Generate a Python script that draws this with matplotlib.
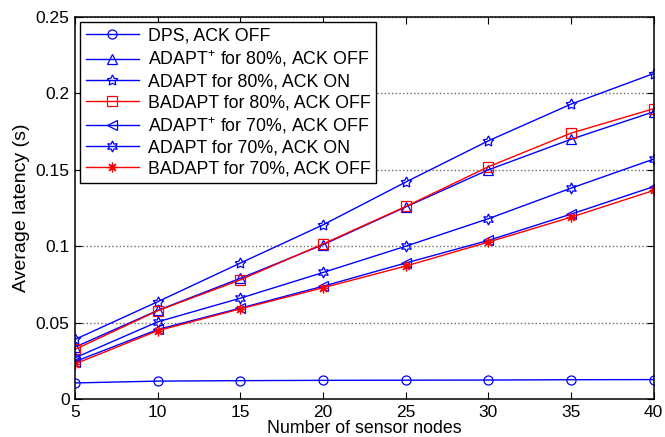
import matplotlib.pyplot as plt
import numpy as np

plt.rcParams['font.family'] = ['Liberation Sans', 'DejaVu Sans']
plt.rcParams['mathtext.fontset'] = 'custom'
plt.rcParams['mathtext.rm'] = 'Liberation Sans'

nodes = [5, 10, 15, 20, 25, 30, 35, 40]

dps_off = [0.0105, 0.0117, 0.0120, 0.0122, 0.0123, 0.0124, 0.0126, 0.0127]
adaptp_80_off = [0.034, 0.058, 0.079, 0.101, 0.1257, 0.150, 0.170, 0.188]
adapt_80_on = [0.039, 0.0637, 0.089, 0.114, 0.142, 0.169, 0.193, 0.213]
badapt_80_off = [0.0325, 0.0578, 0.078, 0.1015, 0.126, 0.152, 0.174, 0.190]
adaptp_70_off = [0.0245, 0.0455, 0.0595, 0.0738, 0.089, 0.1038, 0.121, 0.139]
adapt_70_on = [0.027, 0.0505, 0.066, 0.0828, 0.100, 0.118, 0.138, 0.157]
badapt_70_off = [0.023, 0.0447, 0.059, 0.0728, 0.087, 0.1027, 0.119, 0.1365]

# (values, label, marker, colour, marker size)
series = [
    (dps_off, 'DPS, ACK OFF', 'o', 'blue', 6.5),
    (adaptp_80_off, 'ADAPT$^{+}$ for 80%, ACK OFF', '^', 'blue', 7),
    (adapt_80_on, 'ADAPT for 80%, ACK ON', (5, 1, 0), 'blue', 8),
    (badapt_80_off, 'BADAPT for 80%, ACK OFF', 's', 'red', 6.5),
    (adaptp_70_off, 'ADAPT$^{+}$ for 70%, ACK OFF', '<', 'blue', 7),
    (adapt_70_on, 'ADAPT for 70%, ACK ON', (6, 1, 0), 'blue', 8),
    (badapt_70_off, 'BADAPT for 70%, ACK OFF', (8, 2, 0), 'red', 7),
]

fig = plt.figure(figsize=(6.65, 4.37), dpi=100)
ax = fig.add_axes([0.113, 0.087, 0.87, 0.874])

for vals, label, mk, col, size in series:
    ax.plot(nodes, vals, color=col, lw=1, marker=mk, ms=size, mfc='none',
            mec=col, mew=0.9, label=label)

ax.set_xlim(5, 40)
ax.set_ylim(0, 0.25)
ax.set_xticks(nodes)
ax.set_yticks([0, 0.05, 0.1, 0.15, 0.2, 0.25])
ax.set_yticklabels(['0', '0.05', '0.1', '0.15', '0.2', '0.25'])
ax.tick_params(direction='in', top=True, right=True, labelsize=12.5, length=5, pad=4)
ax.yaxis.grid(True, linestyle=':', color='dimgray', lw=1)
for sp in ax.spines.values():
    sp.set_linewidth(1.1)
ax.set_xlabel('Number of sensor nodes', fontsize=12.8, labelpad=0)
ax.set_ylabel('Average latency (s)', fontsize=14, labelpad=4)

leg = ax.legend(loc='upper left', fontsize=12.8, fancybox=False, framealpha=1,
                edgecolor='black', borderaxespad=0.3, handlelength=3.0,
                handletextpad=0.5, labelspacing=0.22, borderpad=0.3,
                bbox_to_anchor=(0.0, 1.0))
leg.get_frame().set_linewidth(1)

fig.savefig('out.png', dpi=100)
plt.close()
